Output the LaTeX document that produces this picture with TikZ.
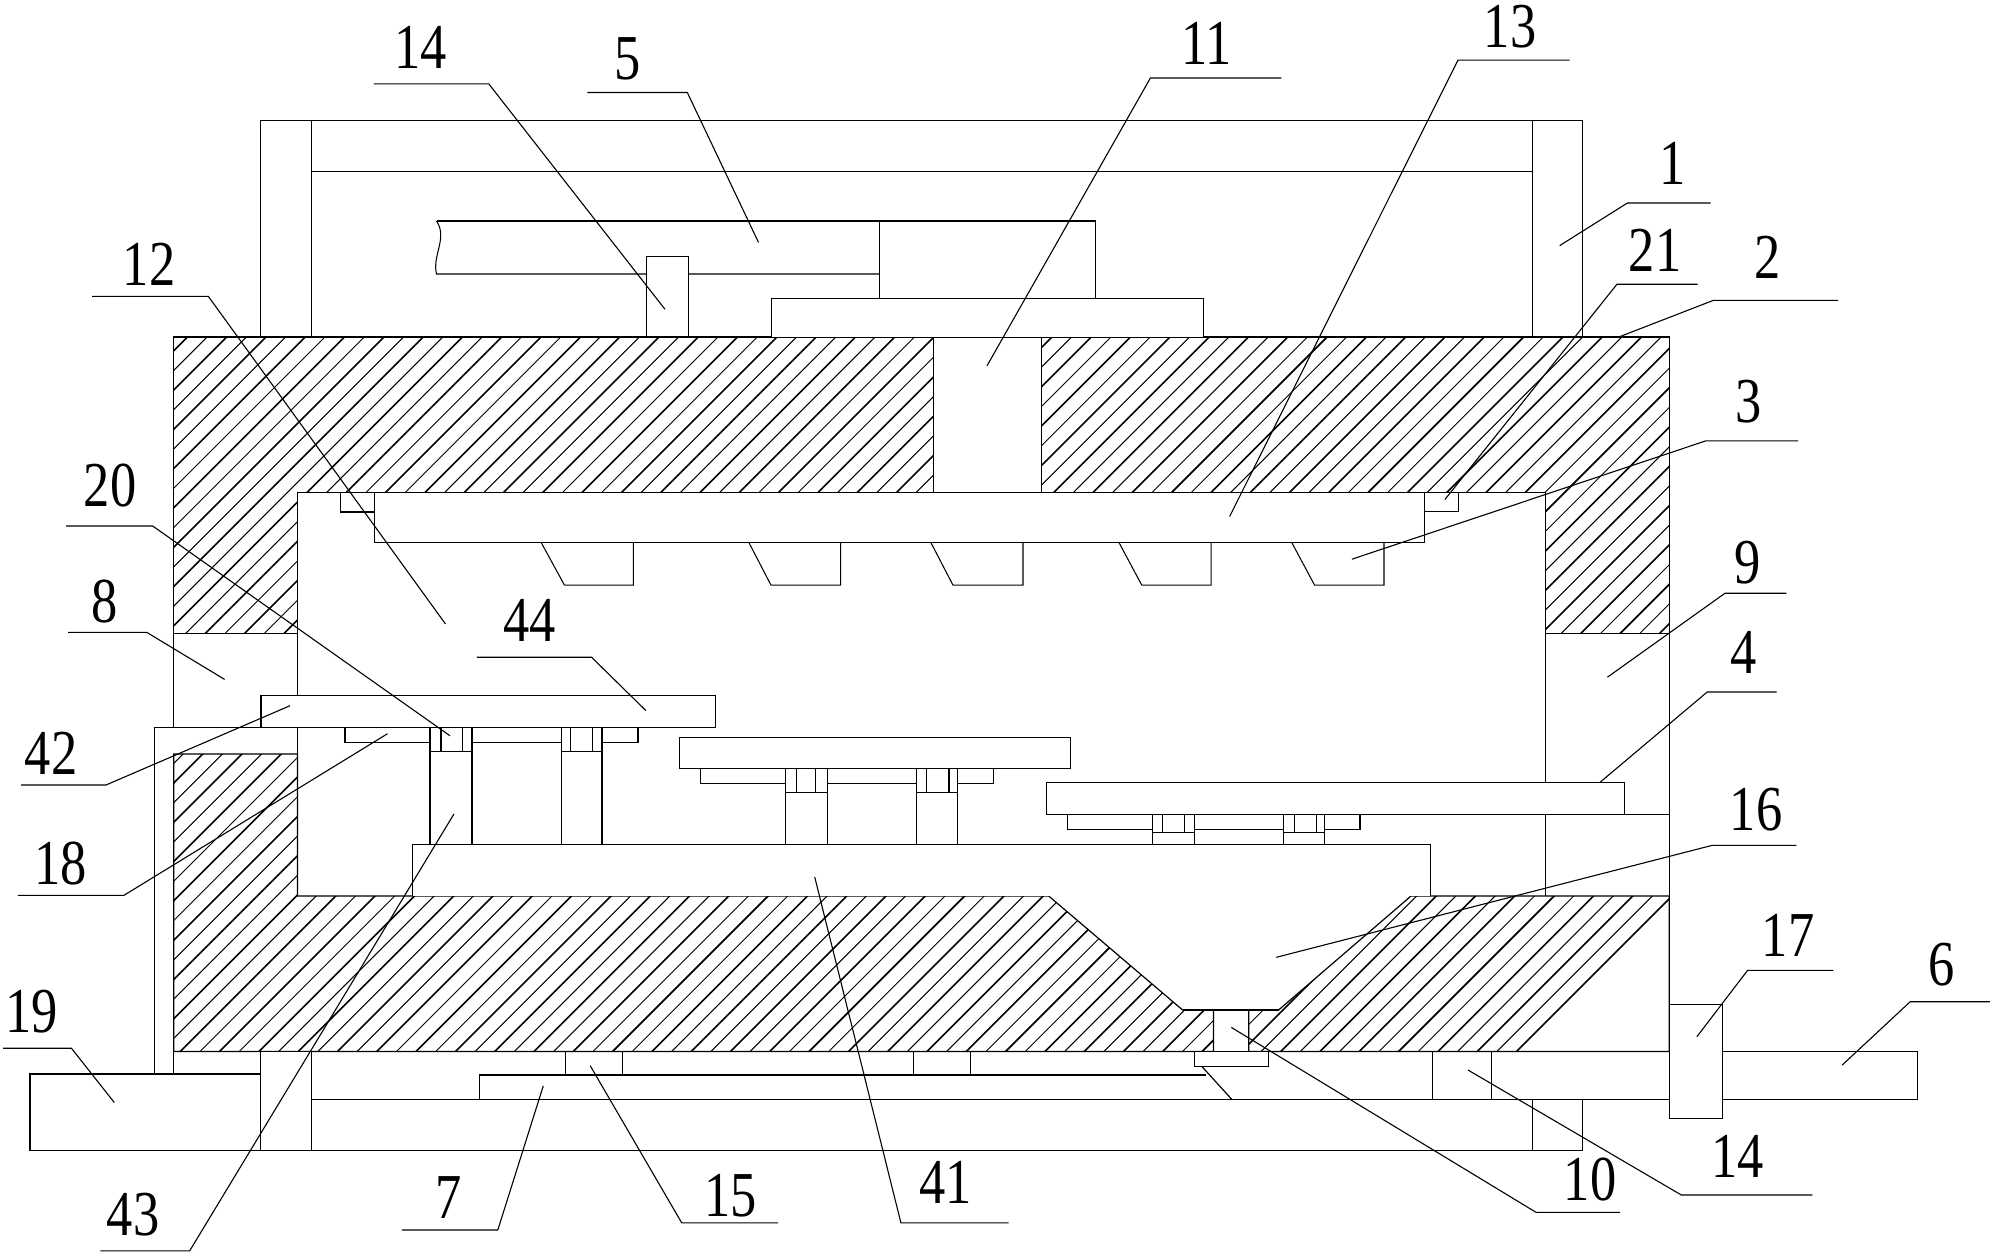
\documentclass[tikz,border=0pt]{standalone}
\usepackage{graphicx}
\usepackage{fontspec}
\setmainfont{Liberation Serif}
\newcommand{\partnum}[1]{\scalebox{.82}[1]{#1}}
\newcommand{\hatchfill}[1]{%
    \begin{scope}
        \clip #1;
        \foreach \c in {0,...,130} {
            \draw[hatchline, line width={(1.0+0.6*(1-mod(\c,2)))*1pt}] ({603+(\c-30)*19.65-300},300) -- ({603+(\c-30)*19.65-1100},1100);
        }
    \end{scope}
    \draw[outline] #1;
}
\begin{document}
\begin{tikzpicture}[
        x=1pt, y=-1pt,
        outline/.style={draw=black, line width=1.2pt},
        hatchline/.style={draw=black},
        thinline/.style={draw=black, line width=1.05pt},
        part/.style={draw=black, fill=white, line width=1.2pt},
        leader/.style={draw=black, line width=1.1pt},
        num/.style={inner sep=0pt, font=\fontsize{64}{64}\selectfont}
    ]
    \useasboundingbox (0,0) rectangle (1997,1255);

    % hatched body
    \hatchfill{(173.7,337) -- (933.6,337) -- (933.6,492.3) -- (297.5,492.3) -- (297.5,633.5) -- (173.7,633.5) -- cycle}
    \hatchfill{(1041.4,337) -- (1669.3,337) -- (1669.3,633.5) -- (1545.3,633.5) -- (1545.3,492.3) -- (1041.4,492.3) -- cycle}
    \hatchfill{(173.7,754) -- (297.5,754) -- (297.5,896) -- (1048.7,896) -- (1182.6,1010) -- (1213.4,1010) -- (1213.4,1051.5) -- (173.7,1051.5) -- cycle}
    \hatchfill{(1248.7,1010) -- (1278.6,1010) -- (1411,896) -- (1669.3,896) -- (1669.3,1051.5) -- (1248.7,1051.5) -- cycle}

    % walls and ports
    \draw[outline] (933.6,337) -- (1041.4,337);
    \draw[thinline] (173.7,633.5) -- (173.7,727.4);
    \draw[outline] (297.5,633.5) -- (297.5,754);
    \draw[thinline] (1545.3,633.5) -- (1545.3,896);
    \draw[outline] (1669.3,633.5) -- (1669.3,896);
    \draw[outline] (1213.4,1051.5) -- (1248.7,1051.5);
    \draw[outline] (1182.6,1010) -- (1278.6,1010);
    \draw[outline] (1624.4,814.3) -- (1669.3,814.3);
    \draw[thinline] (154.5,1074) -- (154.5,727.4) -- (297.5,727.4);
    \draw[thinline] (173.7,1051.5) -- (173.7,1074);

    % top frame, motor and screw
    \draw[thinline] (260.8,337) -- (260.8,120.2) -- (1582.7,120.2) -- (1582.7,337);
    \draw[thinline] (311.3,337) -- (311.3,120.2);
    \draw[thinline] (1532.7,337) -- (1532.7,120.2);
    \draw[thinline] (311.3,171.3) -- (1532.7,171.3);
    \draw[thinline] (436.5,221) -- (1095.3,221) -- (1095.3,298.5);
    \draw[thinline] (436.5,221) .. controls (448,238) and (432,255) .. (436.5,274) -- (879.6,274);
    \draw[thinline] (879.6,221) -- (879.6,298.5);
    \draw[part] (771.7,337) -- (771.7,298.5) -- (1203.2,298.5) -- (1203.2,337);
    \draw[part] (646.6,337) rectangle (688.5,256.2);

    % top plate
    \draw[part] (340.6,492.3) rectangle (374.5,512);
    \draw[part] (1424.2,492.3) rectangle (1458.7,511.5);
    \draw[part] (374.5,492.3) rectangle (1424.2,542.2);
    \foreach \ta/\tb/\tc in {541/564.5/633.3, 748.7/771/840.6, 930.7/953/1023, 1118.8/1141.8/1211.2, 1291.6/1314.6/1384} {
        \draw[thinline] (\ta,542.2) -- (\tb,585.2) -- (\tc,585.2) -- (\tc,542.2);
    }

    % base and the three trays
    \draw[part] (412.5,896) -- (412.5,844.4) -- (1430.7,844.4) -- (1430.7,896);
    \foreach \xa/\xb/\xc/\xd/\xe/\xf/\xg/\xh/\xi/\xj/\xk/\xl/\xm/\xn/\xo/\xp in {
        261/715.6/695.2/727.4/345/638/742.4/430/441/462.5/472/561.6/570.5/592.4/602/751.2,
        679.5/1070.5/737.2/768.3/700.4/993.8/783.2/785.3/796.4/815.6/827.2/916.5/926.3/949/957.6/792.4,
        1046.4/1624.4/782.4/814.3/1067.4/1360/829.2/1152.2/1162.5/1184.4/1194.6/1283.5/1294.6/1316.5/1324.6/832.4} {
        \draw[part] (\xe,\xd) rectangle (\xf,\xg);
        \draw[part] (\xh,\xd) rectangle (\xk,844.4);
        \draw[part] (\xl,\xd) rectangle (\xo,844.4);
        \draw[thinline] (\xh,\xp) -- (\xk,\xp) (\xl,\xp) -- (\xo,\xp);
        \draw[thinline] (\xi,\xd) -- (\xi,\xp) (\xj,\xd) -- (\xj,\xp);
        \draw[thinline] (\xm,\xd) -- (\xm,\xp) (\xn,\xd) -- (\xn,\xp);
        \draw[part] (\xa,\xc) rectangle (\xb,\xd);
    }

    % bottom frame, bars and valve
    \draw[part] (30,1074) rectangle (260.8,1150.5);
    \draw[part] (260.8,1051.5) rectangle (311.3,1150.5);
    \draw[thinline] (311.3,1150.5) -- (1582.2,1150.5) -- (1582.2,1099.3);
    \draw[thinline] (1532.4,1099.3) -- (1532.4,1150.5);
    \draw[outline] (311.3,1099.3) -- (1669.3,1099.3);
    \draw[thinline] (479.5,1099.3) -- (479.5,1075) -- (1205.8,1075);
    \draw[outline] (1201.8,1066.4) -- (1231.7,1099.3);
    \draw[thinline] (565.6,1051.5) rectangle (622.3,1075);
    \draw[thinline] (913.4,1051.5) rectangle (970.5,1075);
    \draw[thinline] (1432.4,1051.5) rectangle (1491.6,1099.3);
    \draw[part] (1194.2,1051.5) rectangle (1268.7,1066.4);
    \draw[thinline] (1213.4,1010) -- (1213.4,1051.5) (1248.7,1010) -- (1248.7,1051.5);
    \draw[part] (1669.3,1051.5) rectangle (1917.3,1099.3);
    \draw[part] (1669.3,1004.3) rectangle (1722.2,1118.3);

    % part numbers with their leaders
    \foreach \id/\lab/\lx/\ly/\sx/\sy/\ex/\tx/\ty in {
        a/14/420.5/47.4/373.9/83.8/488.7/664.9/309.2,
        b/5/627.6/58.5/587.4/92.5/687.3/758.5/242.4,
        c/12/149/264/92/296.3/208.3/445.5/624,
        d/11/1206.7/43.6/1281.3/78/1150.4/987/365.8,
        e/13/1510/26.6/1569.5/60.1/1458/1229.6/516.5,
        f/1/1672.8/163/1710.7/203/1627.4/1559.7/245.6,
        g/21/1655/250/1697.5/284.2/1617/1444.9/499.5,
        h/2/1768/257/1838/300.3/1713.5/1618.8/337,
        i/3/1749/401.7/1798/440.8/1706/1351.9/559.2,
        j/9/1748/562.4/1786.4/593.2/1725/1607.4/677.2,
        k/4/1744/652/1776.7/692/1707.2/1600/782.3,
        l/16/1756/809.3/1796.4/845.3/1712.4/1276.3/957.3,
        m/17/1788/935.7/1833.3/970.3/1747.6/1696.9/1036.7,
        n/6/1942/965/1989.8/1001.7/1910.2/1842.2/1065,
        o/14/1737.8/1156.7/1812.4/1195/1681.3/1468/1070,
        p/10/1590/1180/1620/1212.3/1536/1231.3/1027.4,
        q/41/945.5/1182/1008.5/1222.8/900.9/814.7/877,
        r/15/730.4/1195.6/778/1222.8/681.7/590.2/1065.7,
        s/7/448.7/1197.3/401.8/1230/497.8/543.3/1085.8,
        t/43/133/1214.9/100.4/1250.8/189.7/454/813.9,
        u/19/32/1011.4/3.1/1048.2/71.4/114.3/1102.5,
        v/18/61/863.2/17.9/895.3/124/387.5/733.7,
        w/42/51/753.7/21/785/106/290/705.7,
        x/44/529.5/620/476.8/657.2/591.5/646/710.7,
        y/8/105/601.7/68/632.3/146.7/224.6/679.4,
        z/20/110/486/66/526/152.7/450/735.8} {
        \node[num] (num\id) at (\lx,\ly) {\partnum{\lab}};
        \coordinate (start\id) at (\sx,\sy);
        \coordinate (elbow\id) at (\ex,\sy);
        \coordinate (tip\id) at (\tx,\ty);
        \draw[leader] (start\id) -- (elbow\id) -- (tip\id);
    }
\end{tikzpicture}
\end{document}
